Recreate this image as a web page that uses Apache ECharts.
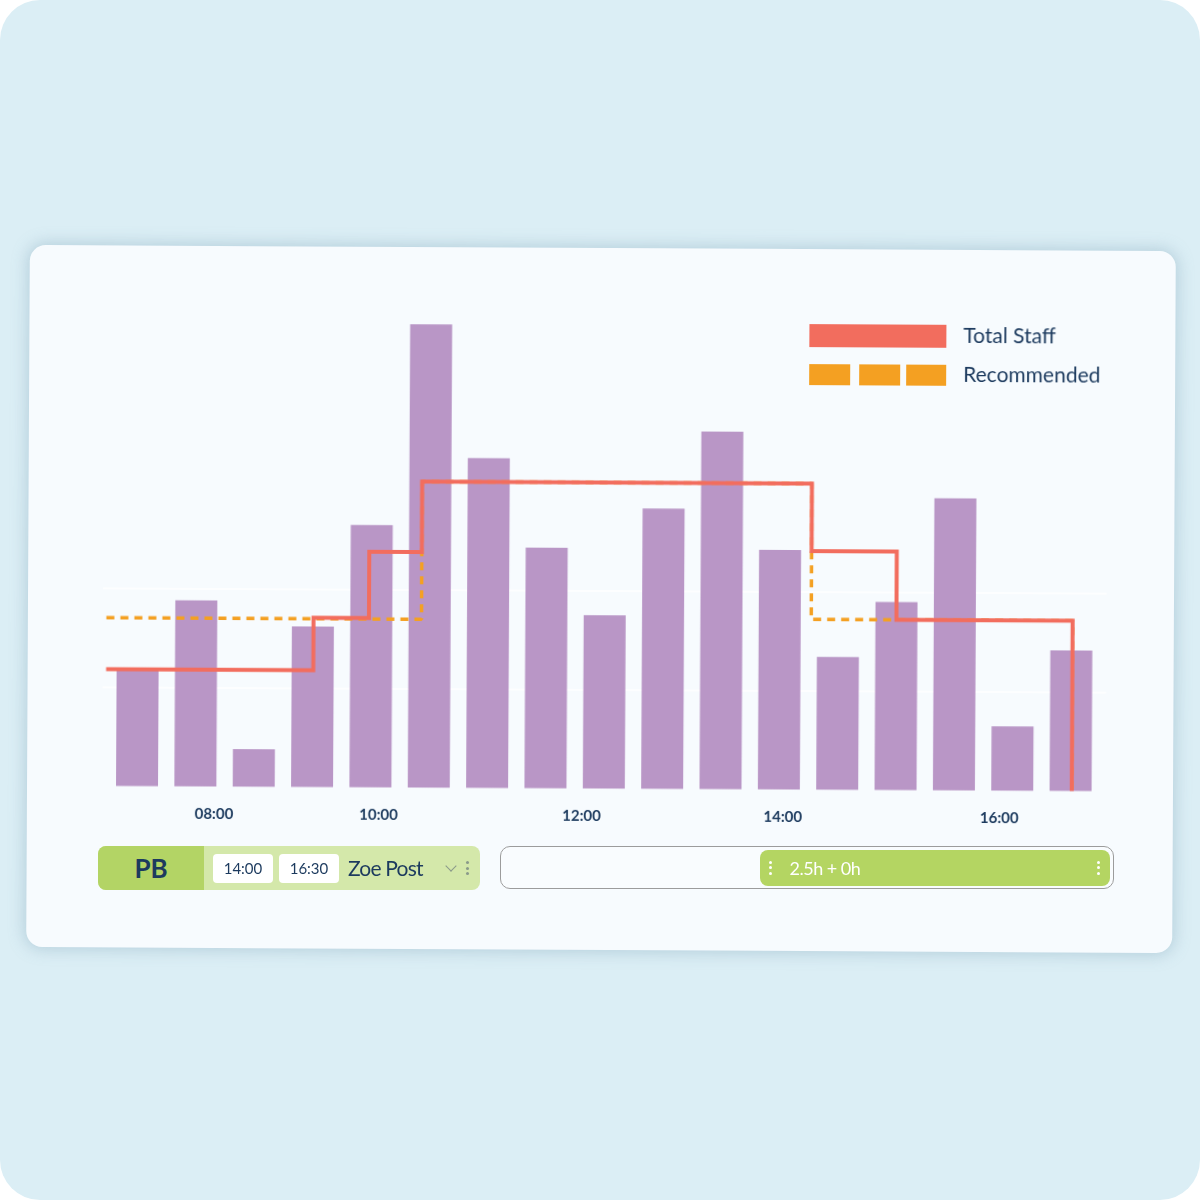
<!DOCTYPE html>
<html><head><meta charset="utf-8">
<script src="https://cdn.jsdelivr.net/npm/echarts@6/dist/echarts.min.js"></script>
<style>
html,body{margin:0;padding:0;background:#ffffff;}
#page{position:absolute;left:0;top:0;width:1200px;height:1200px;background:#dbeef5;border-radius:40px;overflow:hidden;font-family:Lato,'Noto Sans',sans-serif;color:#1c3a5e;}
#card{position:absolute;left:28px;top:248px;width:1146px;height:702px;background:#f7fbfe;border-radius:16px;
  box-shadow:0 0 16px 2px rgba(110,150,172,0.35);transform:rotate(0.3deg);}
#chart{position:absolute;left:0;top:0;width:1146px;height:702px;}
.pill{position:absolute;left:98px;top:846px;width:382px;height:44px;border-radius:8px;background:#d4e8aa;overflow:hidden;}
.pb{position:absolute;left:0;top:0;width:106px;height:44px;background:#b3d465;font-weight:bold;font-size:26px;line-height:45px;text-align:center;color:#1c3a5e;}
.tbox{position:absolute;top:8px;width:60px;height:29px;background:#ffffff;border-radius:4px;font-size:15px;line-height:29px;text-align:center;color:#1c3a5e;}
.name{position:absolute;left:250px;top:0;height:44px;line-height:44px;font-size:21px;letter-spacing:-0.8px;color:#1c3a5e;}
.chev{position:absolute;left:349px;top:16px;width:7px;height:7px;border-right:1.5px solid #8a9a8a;border-bottom:1.5px solid #8a9a8a;transform:rotate(45deg);}
.dots{position:absolute;top:15px;width:3px;height:16px;}
.dots span{display:block;width:3px;height:3px;border-radius:50%;margin-bottom:2.5px;}
.timeline{position:absolute;left:500px;top:846px;width:612px;height:41px;border:1.5px solid #9c9c9c;border-radius:10px;background:#f9fcfe;}
.gbar{position:absolute;left:258.5px;top:2.5px;width:350px;height:36px;border-radius:8px;background:#b4d562;}
.gtext{position:absolute;left:30px;top:0;height:36px;line-height:36px;font-size:18px;color:#ffffff;letter-spacing:-0.5px;}
</style></head>
<body>
<div id="page">
  <div id="card">
    <div id="chart"></div>
  </div>
  <div class="pill">
    <div class="pb">PB</div>
    <div class="tbox" style="left:115px">14:00</div>
    <div class="tbox" style="left:181px">16:30</div>
    <div class="name">Zoe Post</div>
    <div class="chev"></div>
    <div class="dots" style="left:368px"><span style="background:#8a9a8a"></span><span style="background:#8a9a8a"></span><span style="background:#8a9a8a"></span></div>
  </div>
  <div class="timeline">
    <div class="gbar">
      <div class="dots" style="left:9px;top:11px"><span style="background:#fff"></span><span style="background:#fff"></span><span style="background:#fff"></span></div>
      <div class="gtext">2.5h + 0h</div>
      <div class="dots" style="left:337px;top:11px"><span style="background:#fff"></span><span style="background:#fff"></span><span style="background:#fff"></span></div>
    </div>
  </div>
</div>
<script>
// ---- data ----
const barSlots  = [0,1,2,3,4,5,6,7,8,9,10,11,12,13,14,15,16];
const barValues = [11.8,18.8,3.8,16.2,26.5,46.8,33.3,24.3,17.5,28.3,36.1,24.2,13.4,19.0,29.5,6.5,14.2];
const tickLabels = ['08:00','10:00','12:00','14:00','16:00'];
const tickSlots  = [1.32,4.14,7.62,11.07,14.78];
const staffSlots  = [-0.54,3.01,3.96,4.86,11.54,13.00,16.02];
const staffLevels = [11.8,17.1,23.8,30.9,24.1,17.2,0];
const recSlots  = [-0.54,4.86,11.54,16.02];
const recLevels = [17.0,30.9,17.2,0];

const NAVY = '#1c3a5e', RED = '#f26d5e', ORANGE = '#f4a022', PURPLE = '#b996c6';

const chart = echarts.init(document.getElementById('chart'), null, {renderer:'canvas'});
chart.setOption({
  animation:false,
  backgroundColor:'transparent',
  grid:{left:75, right:67.4, top:45.5, bottom:161.5},
  legend:{
    orient:'vertical', left:775, top:70, itemWidth:137, itemHeight:23, itemGap:17,
    selectedMode:false,
    itemStyle:{borderWidth:0},
    textStyle:{fontSize:21, color:NAVY, fontFamily:'Lato', padding:[0,0,0,12]},
    data:[
      {name:'Total Staff', icon:'rect'},
      {name:'Recommended', icon:'path://M0,0H41V21H0Z M50,0H91V21H50Z M97,0H137V21H97Z'}
    ]
  },
  xAxis:{
    type:'value', min:-0.6, max:16.6,
    axisLine:{show:false}, axisTick:{show:false}, splitLine:{show:false},
    axisLabel:{
      customValues:tickSlots,
      formatter:function(v){ const i = tickSlots.indexOf(v); return i>=0 ? tickLabels[i] : ''; },
      margin:20, fontSize:15, fontWeight:'bold', color:NAVY, fontFamily:'Lato'
    }
  },
  yAxis:{
    type:'value', min:0, max:50, interval:10,
    axisLine:{show:false}, axisTick:{show:false}, axisLabel:{show:false},
    splitLine:{show:true, lineStyle:{width:1.5, color:['rgba(0,0,0,0)','#ffffff','#ffffff','rgba(0,0,0,0)','rgba(0,0,0,0)','rgba(0,0,0,0)']}}
  },
  series:[
    {
      name:'Demand', type:'bar', barWidth:42, z:1,
      itemStyle:{color:PURPLE},
      data:barSlots.map((s,i)=>[s, barValues[i]])
    },
    {
      name:'Recommended', type:'line', step:'end', symbol:'none', z:2,
      itemStyle:{color:ORANGE},
      lineStyle:{color:ORANGE, width:3.5, type:[8,6], cap:'butt'},
      data:recSlots.map((s,i)=>[s, recLevels[i]])
    },
    {
      name:'Total Staff', type:'line', step:'end', symbol:'none', z:3,
      itemStyle:{color:RED},
      lineStyle:{color:RED, width:4, join:'miter', cap:'butt'},
      data:staffSlots.map((s,i)=>[s, staffLevels[i]])
    }
  ]
});
</script>
</body></html>
